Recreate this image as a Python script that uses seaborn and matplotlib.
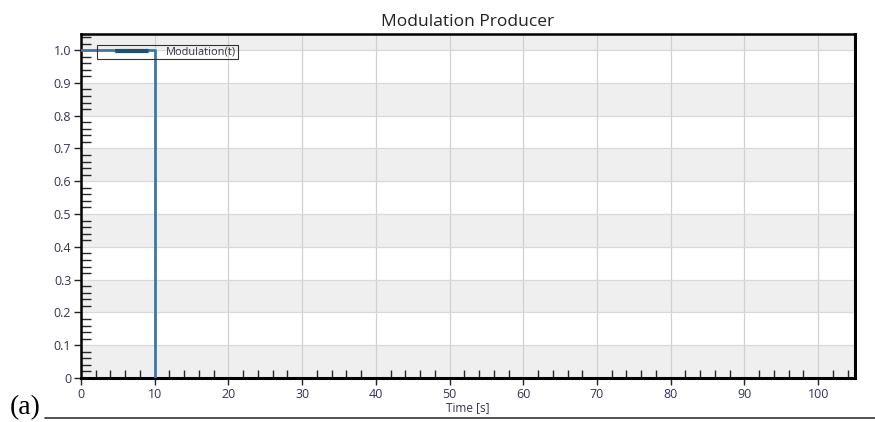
import matplotlib
matplotlib.use("Agg")
import matplotlib.pyplot as plt
import seaborn as sns
import numpy as np
import pandas as pd
from matplotlib.ticker import MultipleLocator

time_s = [0, 10, 10]
modulation = [1.0, 1.0, 0.0]
x_ticks = [0, 10, 20, 30, 40, 50, 60, 70, 80, 90, 100]
y_ticks = [0, 0.1, 0.2, 0.3, 0.4, 0.5, 0.6, 0.7, 0.8, 0.9, 1.0]
y_labels = ["0", "0.1", "0.2", "0.3", "0.4", "0.5", "0.6", "0.7", "0.8", "0.9", "1.0"]

df = pd.DataFrame({"Time [s]": time_s, "Modulation(t)": modulation})

sns.set_theme(style="white")
plt.rcParams['font.family'] = ['Open Sans', 'DejaVu Sans']

fig = plt.figure(figsize=(8.75, 4.22), dpi=100)
ax = fig.add_axes([81/875, 1 - 378/422, (855-81)/875, (378-34)/422])

ax.set_xlim(0, 105)
ax.set_ylim(0, 1.049)

# alternating bands
for i in range(0, 11, 2):
    ax.axhspan(i*0.1, min((i+1)*0.1, 1.049), color="#efefef", zorder=0, lw=0)

for xv in x_ticks[1:]:
    ax.axvline(xv, color="#d0d0d0", lw=0.9, zorder=1)
for yv in y_ticks[1:]:
    ax.axhline(yv, color="#d8d8d8", lw=0.9, zorder=1)

sns.lineplot(data=df, x="Time [s]", y="Modulation(t)", sort=False, estimator=None,
             ax=ax, color="#3a78a8", lw=2.0, zorder=4, label="Modulation(t)")

ax.set_xticks(x_ticks)
ax.set_yticks(y_ticks)
ax.set_yticklabels(y_labels)
ax.xaxis.set_minor_locator(MultipleLocator(2))
ax.yaxis.set_minor_locator(MultipleLocator(0.02))
ax.tick_params(axis="both", which="major", direction="out", length=5, width=1,
               labelsize=9, colors="#222222", labelcolor="#333355", pad=2)
ax.tick_params(axis="x", which="minor", direction="in", length=6, width=1, bottom=True)
ax.tick_params(axis="y", which="minor", direction="in", length=7, width=1, left=True)
ax.tick_params(axis="x", which="major", bottom=True)
ax.tick_params(axis="y", which="major", left=True)

for s in ax.spines.values():
    s.set_visible(True)
    s.set_color("black")
ax.spines["bottom"].set_linewidth(2.2)
ax.spines["left"].set_linewidth(1.8)
ax.spines["top"].set_linewidth(1.8)
ax.spines["right"].set_linewidth(2.2)

ax.set_xlabel("Time [s]", fontsize=8.5, color="#333355", labelpad=0)
ax.set_ylabel("")
ax.set_title("Modulation Producer", fontsize=12.5, color="#222222", pad=6)

leg = ax.legend(loc="upper left", bbox_to_anchor=(16/774, 1 - 11/344), fontsize=7.9,
                frameon=True, fancybox=False,
                borderpad=0.15, handlelength=4.7, handletextpad=1.45,
                borderaxespad=0)
leg.set_zorder(5)
frame = leg.get_frame()
frame.set_alpha(None)
frame.set_facecolor((1, 1, 1, 0))
frame.set_edgecolor("#333333")
frame.set_linewidth(0.8)
for h in leg.get_lines():
    h.set_color("#1f4e79")
    h.set_linewidth(3)
    h.set_solid_capstyle("butt")
    h.set_dash_capstyle("butt")
    h.set_linestyle((8.0, (8.0, 3.9)))
for t in leg.get_texts():
    t.set_color("#333344")

fig.text(10/875, 1 - 414/422, "(a)", fontsize=20, family="Liberation Serif",
         va="baseline", ha="left", color="black")
fig.add_artist(plt.Line2D([45/875, 1.0], [1 - 418/422, 1 - 418/422],
                          color="#333333", lw=1.2))

fig.savefig("out.png", dpi=100)
